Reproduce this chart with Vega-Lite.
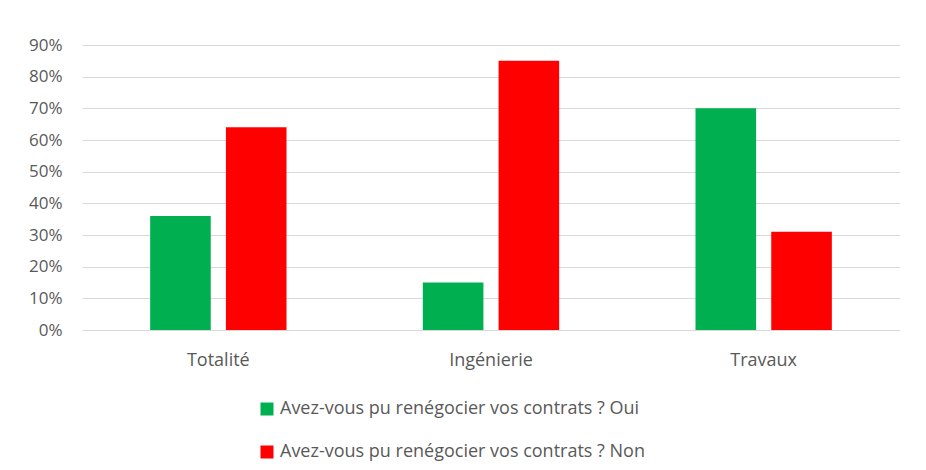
{
  "$schema": "https://vega.github.io/schema/vega-lite/v6.json",
  "width": 818,
  "height": 285,
  "autosize": {"type": "none"},
  "padding": {"left": 82, "top": 45, "right": 26, "bottom": 140},
  "background": "white",
  "data": {
    "values": [
      {"categorie": "Totalité", "reponse": "Avez-vous pu renégocier vos contrats ? Oui", "valeur": 0.36},
      {"categorie": "Totalité", "reponse": "Avez-vous pu renégocier vos contrats ? Non", "valeur": 0.64},
      {"categorie": "Ingénierie", "reponse": "Avez-vous pu renégocier vos contrats ? Oui", "valeur": 0.15},
      {"categorie": "Ingénierie", "reponse": "Avez-vous pu renégocier vos contrats ? Non", "valeur": 0.85},
      {"categorie": "Travaux", "reponse": "Avez-vous pu renégocier vos contrats ? Oui", "valeur": 0.70},
      {"categorie": "Travaux", "reponse": "Avez-vous pu renégocier vos contrats ? Non", "valeur": 0.31}
    ]
  },
  "mark": {"type": "bar"},
  "encoding": {
    "x": {
      "field": "categorie",
      "type": "nominal",
      "sort": ["Totalité", "Ingénierie", "Travaux"],
      "scale": {"paddingInner": 0.5, "paddingOuter": 0.25},
      "axis": {
        "title": null,
        "labelAngle": 0,
        "ticks": false,
        "domain": false,
        "labelPadding": 21,
        "labelFont": "Open Sans",
        "labelFontSize": 18,
        "labelColor": "#595959"
      }
    },
    "xOffset": {
      "field": "reponse",
      "type": "nominal",
      "sort": ["Avez-vous pu renégocier vos contrats ? Oui", "Avez-vous pu renégocier vos contrats ? Non"],
      "scale": {"paddingInner": 0.2, "paddingOuter": 0}
    },
    "y": {
      "field": "valeur",
      "type": "quantitative",
      "scale": {"domain": [0, 0.9], "nice": false},
      "axis": {
        "title": null,
        "format": ".0%",
        "values": [0, 0.1, 0.2, 0.3, 0.4, 0.5, 0.6, 0.7, 0.8, 0.9],
        "ticks": false,
        "domain": false,
        "labelPadding": 20,
        "labelFont": "Open Sans",
        "labelFontSize": 17,
        "labelColor": "#595959",
        "gridColor": "#d9d9d9",
        "gridWidth": 1.2
      }
    },
    "color": {
      "field": "reponse",
      "type": "nominal",
      "sort": ["Avez-vous pu renégocier vos contrats ? Oui", "Avez-vous pu renégocier vos contrats ? Non"],
      "scale": {
        "domain": ["Avez-vous pu renégocier vos contrats ? Oui", "Avez-vous pu renégocier vos contrats ? Non"],
        "range": ["#00B050", "#FF0000"]
      },
      "legend": {
        "title": null,
        "orient": "none",
        "legendX": 176,
        "legendY": 355,
        "direction": "vertical",
        "padding": 0,
        "rowPadding": 25,
        "symbolType": "square",
        "symbolSize": 169,
        "symbolStrokeWidth": 0,
        "labelOffset": 4,
        "labelFont": "Open Sans",
        "labelFontSize": 18,
        "labelColor": "#595959",
        "labelLimit": 600
      }
    }
  },
  "config": {
    "view": {"stroke": null}
  }
}
